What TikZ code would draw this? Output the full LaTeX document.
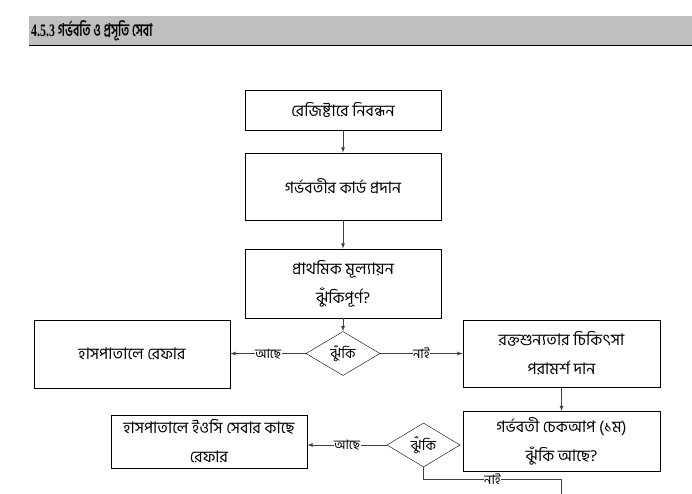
\documentclass[tikz,border=0pt]{standalone}
\usepackage{fontspec}
\setmainfont{Liberation Serif}
\newfontfamily\bn[Script=Bengali]{Hind Siliguri}
\usetikzlibrary{shapes.geometric}

\tikzset{
  box/.style={draw=black,thick,minimum width=196pt,align=center,font=\bn\fontsize{16}{29}\selectfont,inner sep=1pt},
  dec/.style={draw=black,diamond,aspect=1.7,inner sep=0pt,minimum width=74pt,minimum height=44pt,font=\bn\fontsize{14}{14}\selectfont},
  flow/.style={draw=black!75,thick,-latex},
  lbl/.style={fill=white,inner sep=0.5pt,font=\bn\fontsize{13}{13}\selectfont}
}

\begin{document}
\begin{tikzpicture}[x=1pt,y=-1pt]
		\useasboundingbox (0,0) rectangle (692,493);
		% heading
		\fill[black!25] (29,16) rectangle (692,45);
		\draw[thick] (29,45) -- (692,45);
		\node[anchor=west,inner sep=0pt] (title) at (31,30.5){\scalebox{0.68}[1]{\fontsize{17.5}{17.5}\selectfont\bfseries 4.5.3 {\bn গর্ভবতি ও প্রসূতি সেবা}}};
		% main column
		\node[box,minimum height=40pt] (reg) at (343,110){রেজিষ্টারে নিবন্ধন};
		\node[box,minimum height=67pt] (card) at (343,186.5){গর্ভবতীর কার্ড প্রদান};
		\node[box,minimum height=69pt] (assess) at (343,283.5){প্রাথমিক মূল্যায়ন\\ঝুঁকিপূর্ণ?};
		\node[dec] (risk1) at (343,353.5){ঝুঁকি};
		\node[box,minimum height=68pt] (hosp) at (132,354){হাসপাতালে রেফার};
		\node[box,minimum height=67pt,minimum width=197pt] (anemia) at (561.5,353.5){রক্তশুন্যতার চিকিৎসা\\পরামর্শ দান};
		\node[box,minimum height=60pt,minimum width=197pt] (checkup) at (561.5,441.5){গর্ভবতী চেকআপ (১ম)\\ঝুঁকি আছে?};
		\node[dec,minimum width=73pt] (risk2) at (423.5,445){ঝুঁকি};
		\node[box,minimum height=53pt] (eoc) at (209,441.5){হাসপাতালে ইওসি সেবার কাছে\\রেফার};
		\coordinate (next) at (561.5,495);
		% connectors
		\draw[flow] (reg) -- (card);
		\draw[flow] (card) -- (assess);
		\draw[flow] (assess) -- (risk1);
		\draw[flow] (risk1.west) -- node[lbl]{আছে} (hosp.east |- risk1.west);
		\draw[flow] (risk1.east) -- node[lbl]{নাই} (anemia.west |- risk1.east);
		\draw[flow] (anemia) -- (checkup);
		\draw[flow] (risk2.west) -- node[lbl]{আছে} (eoc.east |- risk2.west);
		\draw[draw=black!75,thick] (risk2.south) -- ++(0,12) -- node[lbl]{নাই} ++(138,0) -- (next);
	\end{tikzpicture}
\end{document}
